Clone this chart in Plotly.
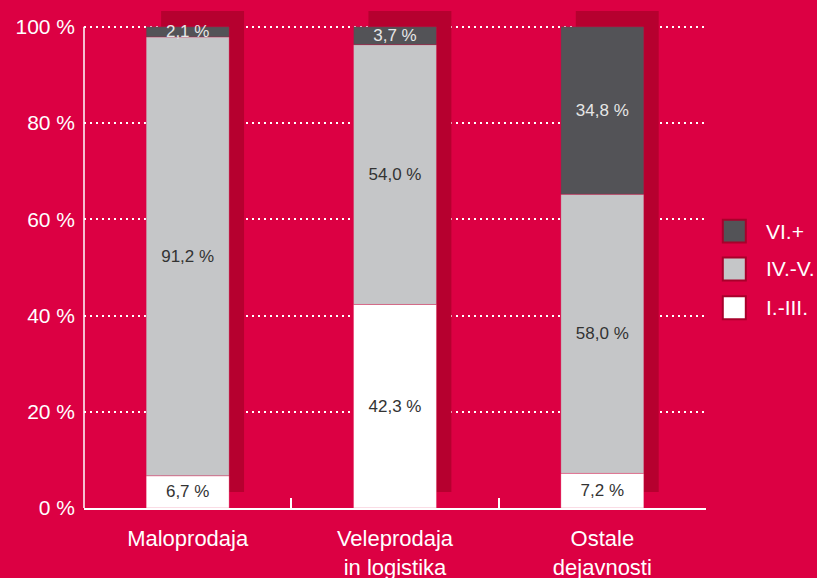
import numpy as np
import plotly.graph_objects as go

# Podatki (deleži v %)
KATEGORIJE = ["Maloprodaja", "Veleprodaja<br>in logistika", "Ostale<br>dejavnosti"]
SERIJE = ["I.-III.", "IV.-V.", "VI.+"]
I_III = [6.7, 42.3, 7.2]
IV_V = [91.2, 54.0, 58.0]
VI_PLUS = [2.1, 3.7, 34.8]
Y_TICKI = [0, 20, 40, 60, 80, 100]

OZADJE = "#DC0043"
SENCA = "#B6002F"
BARVE = {"I.-III.": "#FFFFFF", "IV.-V.": "#C5C6C8", "VI.+": "#535357"}
BARVE_TEKSTA = {"I.-III.": "#333333", "IV.-V.": "#333333", "VI.+": "#E6E6E6"}
PISAVA = "Liberation Sans"

SIRINA = 0.4
SENCA_DX = 0.072   # zamik sence desno (v kategorijah)
SENCA_DY = 3.3     # zamik sence navzgor (v %)


def oznaka(v):
    return f"{v:.1f} %".replace(".", ",")


vrednosti = {"I.-III.": I_III, "IV.-V.": IV_V, "VI.+": VI_PLUS}
skupaj = np.sum([I_III, IV_V, VI_PLUS], axis=0)

fig = go.Figure()

# senca za stolpci
fig.add_trace(go.Bar(
    x=KATEGORIJE, y=skupaj, base=[SENCA_DY] * len(KATEGORIJE),
    width=SIRINA, offset=-SIRINA / 2 + SENCA_DX,
    marker=dict(color=SENCA, line=dict(width=0)),
    showlegend=False, hoverinfo="skip",
))

baza = np.zeros(len(KATEGORIJE))
for serija in SERIJE:
    y = np.array(vrednosti[serija])
    fig.add_trace(go.Bar(
        x=KATEGORIJE, y=y, base=baza.copy(), name=serija,
        width=SIRINA, offset=-SIRINA / 2,
        marker=dict(color=BARVE[serija], line=dict(color="rgba(220,0,67,0.35)", width=0.8)),
        text=[oznaka(v) for v in y],
        textposition="inside", insidetextanchor="middle", constraintext="none",
        textangle=0,
        textfont=dict(family=PISAVA, size=17, color=BARVE_TEKSTA[serija]),
        showlegend=False, hoverinfo="skip",
    ))
    baza = baza + y

# ročna legenda (od zgoraj navzdol: VI.+, IV.-V., I.-III.)
legenda_y = [0.556, 0.480, 0.402]
for serija, ly in zip(SERIJE[::-1], legenda_y):
    fig.add_shape(
        type="rect", xref="paper", yref="paper",
        x0=1.027, x1=1.064, y0=ly - 0.023, y1=ly + 0.023,
        fillcolor=BARVE[serija], line=dict(color="#A8002B", width=2),
    )
    fig.add_annotation(
        text=serija, xref="paper", yref="paper", x=1.093, y=ly,
        xanchor="left", yanchor="middle", showarrow=False,
        font=dict(family=PISAVA, size=21, color="white"),
    )

# y os (samo do 100 %)
fig.add_shape(type="line", xref="paper", yref="y", x0=0, x1=0, y0=0, y1=100,
              line=dict(color="white", width=1.5))

fig.update_layout(
    width=817, height=578,
    barmode="overlay",
    paper_bgcolor=OZADJE, plot_bgcolor=OZADJE,
    margin=dict(l=84, r=111, t=10, b=70),
    font=dict(family=PISAVA, color="white", size=21),
    xaxis=dict(
        type="category", tickson="boundaries", ticks="inside", ticklen=10,
        tickcolor="white", tickwidth=1.5, showline=True, linecolor="white",
        linewidth=1.5, showgrid=False, ticklabelstandoff=10, automargin=False,
        tickfont=dict(size=22, color="white"),
    ),
    yaxis=dict(
        range=[0, 103.5], tickvals=Y_TICKI, ticktext=[f"{t} %" for t in Y_TICKI],
        showgrid=True, gridcolor="white", griddash="2px,4px", gridwidth=1.5,
        zeroline=False, showline=False, ticks="", ticklabelstandoff=8,
        automargin=False, tickfont=dict(size=21, color="white"),
    ),
)

fig.write_html("out.html", config={"displayModeBar": False},
               post_script="document.body.style.margin='0';")
